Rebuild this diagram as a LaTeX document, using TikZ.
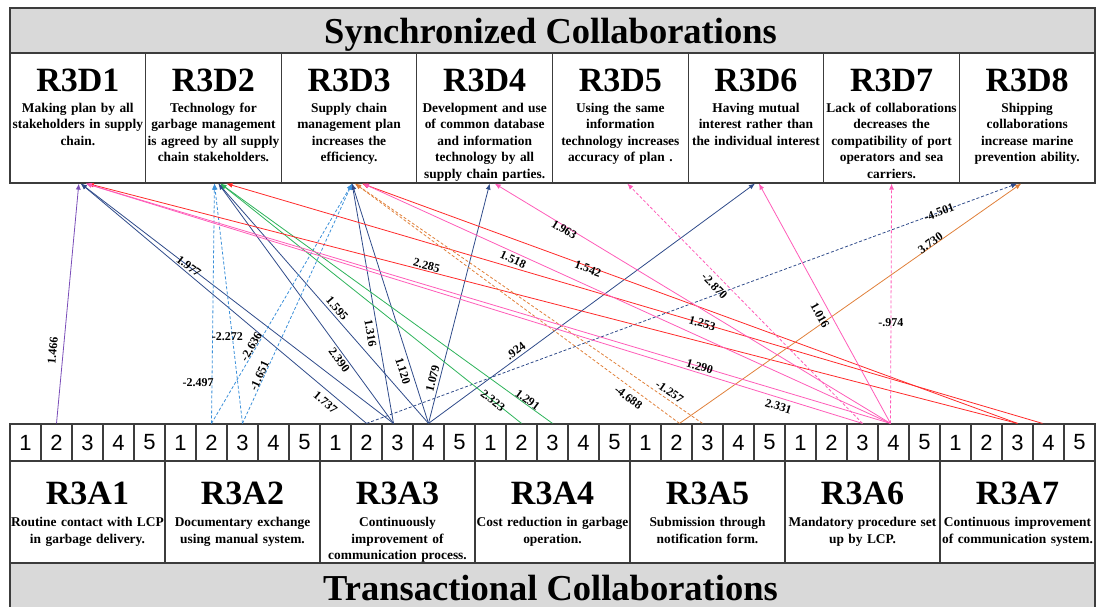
\documentclass[tikz,border=0pt]{standalone}
\usepackage{fontspec}
\setmainfont{Liberation Serif}
\newfontfamily\cellfont{Liberation Sans}
\usetikzlibrary{arrows.meta}

\definecolor{hdrgrey}{HTML}{D9D9D9}
\definecolor{frame}{HTML}{3C3C3C}
\definecolor{cnavy}{HTML}{2F4B8A}
\definecolor{cblue}{HTML}{3A8FD9}
\definecolor{cgreen}{HTML}{2DB35A}
\definecolor{cred}{HTML}{FF2A2A}
\definecolor{cpink}{HTML}{FF5CB8}
\definecolor{corange}{HTML}{E0803A}
\definecolor{cpurple}{HTML}{7A4DB8}

\begin{document}
\begin{tikzpicture}[x=1pt,y=-1pt,
  boxline/.style={draw=frame, line width=1.2pt},
  hdr/.style={boxline, fill=hdrgrey, minimum width=1085pt, inner sep=0pt},
  bigtitle/.style={font=\bfseries\fontsize{36.5}{36.5}\selectfont, inner sep=0pt},
  rtitle/.style={font=\bfseries\fontsize{34}{34}\selectfont, inner sep=0pt},
  dbox/.style={boxline, minimum width=135.625pt, minimum height=130pt, inner sep=0pt},
  abox/.style={boxline, minimum width=155pt, minimum height=102pt, inner sep=0pt},
  cell/.style={boxline, minimum width=31pt, minimum height=37pt, inner sep=0pt,
    font=\cellfont\fontsize{22}{22}\selectfont},
  desc/.style={font=\bfseries\fontsize{13.4}{16.5}\selectfont, align=center,
    text width=135pt, inner sep=0pt, anchor=north},
  conn/.style={line width=0.8pt, -{Latex[length=6pt,width=5pt]}},
  dashedln/.style={dash pattern=on 3pt off 2pt},
  lab/.style={font=\bfseries\fontsize{12}{12}\selectfont, text=black, inner sep=1pt, sloped},
  hlab/.style={font=\bfseries\fontsize{12}{12}\selectfont, text=black, inner sep=1pt}
]
\useasboundingbox (0,0) rectangle (1099,606);
\clip (0,0) rectangle (1099,606);

% top band
\node[hdr, minimum height=45pt] (synch) at (552.5,30.5) {};
\node[bigtitle, anchor=base] (synchT) at (550.5,43) {Synchronized Collaborations};

% synchronized items
\foreach \k/\txt in {
  1/{Making plan by all\\stakeholders in supply\\chain.},
  2/{Technology for\\garbage management\\is agreed by all supply\\chain stakeholders.},
  3/{Supply chain\\management plan\\increases the\\efficiency.},
  4/{Development and use\\of common database\\and information\\technology by all\\supply chain parties.},
  5/{Using the same\\information\\technology increases\\accuracy of plan .},
  6/{Having mutual\\interest rather than\\the individual interest},
  7/{Lack of collaborations\\decreases the\\compatibility of port\\operators and sea\\carriers.},
  8/{Shipping\\collaborations\\increase marine\\prevention ability.}} {
  \node[dbox] (D\k) at ({10+(\k-0.5)*135.625},118) {};
  \node[rtitle, anchor=base] (D\k t) at ({10+(\k-0.5)*135.625},91) {R3D\k};
  \node[desc] (D\k d) at ({10+(\k-0.5)*135.625},102.5) {\txt};
}

% scale cells
\foreach \g in {1,...,7} {
  \foreach \c in {1,...,5} {
    \node[cell] (a\g\c) at ({10+155*(\g-1)+31*(\c-0.5)},442.5) {\c};
  }
}

% transactional items
\foreach \g/\txt in {
  1/{Routine contact with LCP\\in garbage delivery.},
  2/{Documentary exchange\\using manual system.},
  3/{Continuously\\improvement of\\communication process.},
  4/{Cost reduction in garbage\\operation.},
  5/{Submission through\\notification form.},
  6/{Mandatory procedure set\\up by LCP.},
  7/{Continuous improvement\\of communication system.}} {
  \node[abox] (A\g) at ({10+155*(\g-0.5)},512) {};
  \node[rtitle, anchor=base] (A\g t) at ({10+155*(\g-0.5)},504) {R3A\g};
  \node[desc, text width=155pt] (A\g d) at ({10+155*(\g-0.5)},517) {\txt};
}

% bottom band
\node[hdr, minimum height=57pt] (trans) at (552.5,591.5) {};
\node[bigtitle, anchor=base] (transT) at (550.5,600) {Transactional Collaborations};

% purple
\draw[conn, cpurple] (a12.north) -- node[lab, pos=0.30, above=5pt]{1.466} ([xshift=1pt]D1.south);

% navy
\draw[conn, cnavy] (a32.north) -- node[lab, pos=0.12, below=5pt]{1.737} ([xshift=3pt]D1.south);
\draw[conn, cnavy] ([xshift=-4pt]a33.north) -- node[lab, pos=0.655]{1.977} ([xshift=3pt]D1.south);
\draw[conn, cnavy] ([xshift=-4pt]a33.north) -- node[lab, pos=0.28, below=1pt]{2.390} ([xshift=5pt]D2.south);
\draw[conn, cnavy] (a34.north) -- node[lab, pos=0.46, above=1.5pt]{1.595} ([xshift=5pt]D2.south);
\draw[conn, cnavy] ([xshift=-4pt]a33.north) -- node[lab, pos=0.38, below=2pt]{1.316} ([xshift=3pt]D3.south);
\draw[conn, cnavy] (a34.north) -- node[lab, pos=0.23, below=3pt]{1.120} ([xshift=3pt]D3.south);
\draw[conn, cnavy] (a34.north) -- node[lab, pos=0.18, above=1.5pt]{1.079} ([xshift=5pt]D4.south);
\draw[conn, cnavy] (a34.north) -- node[lab, pos=0.28, above=1.5pt]{.924} ([xshift=-1pt]D6.south);
\draw[conn, cnavy, dashedln] (a32.north) -- node[lab, pos=0.88]{-4.501} ([xshift=-10pt]D8.south);

% light blue, dashed
\draw[conn, cblue, dashedln] (a22.north) -- node[hlab, pos=0.17, xshift=-14pt]{-2.497} ([xshift=1pt]D2.south);
\draw[conn, cblue, dashedln] (a23.north) -- node[hlab, pos=0.36, xshift=-5pt]{-2.272} ([xshift=1pt]D2.south);
\draw[conn, cblue, dashedln] (a22.north) -- node[lab, pos=0.31, above=-1pt]{-2.636} ([xshift=3pt]D3.south);
\draw[conn, cblue, dashedln] (a23.north) -- node[lab, pos=0.19, above=-1pt]{-1.651} ([xshift=3pt]D3.south);

% green
\draw[conn, cgreen] (a42.north) -- node[lab, pos=0.095]{2.323} ([xshift=7pt]D2.south);
\draw[conn, cgreen] (a43.north) -- node[lab, pos=0.083, above=-1pt]{1.291} ([xshift=7pt]D2.south);

% red
\draw[conn, cred] (a73.north) -- node[lab, pos=0.637, above=0pt]{2.285} ([xshift=10pt]D1.south);
\draw[conn, cred] ([xshift=-6pt]a74.north) -- node[lab, pos=0.417]{1.253} ([xshift=13pt]D2.south);
\draw[conn, cred] (a73.north) -- node[lab, pos=0.654, below=-3pt]{1.542} ([xshift=13pt]D3.south);

% orange
\draw[conn, corange, dashedln] ([xshift=3pt]a52.north) -- node[lab, pos=0.14, below=4pt]{-4.688} ([xshift=6pt]D3.south);
\draw[conn, corange, dashedln] ([xshift=-5pt]a53.north) -- node[lab, pos=0.107, above=2pt]{-1.257} ([xshift=6pt]D3.south);
\draw[conn, corange] ([xshift=3pt]a52.north) -- node[lab, pos=0.74, above=-2pt]{3.730} ([xshift=-6pt]D8.south);

% pink
\draw[conn, cpink] (a63.north) -- node[lab, pos=0.105, below=3pt]{2.331} ([xshift=8pt]D1.south);
\draw[conn, cpink] ([xshift=-3pt]a64.north) -- node[lab, pos=0.237]{1.290} ([xshift=8pt]D1.south);
\draw[conn, cpink] ([xshift=-3pt]a64.north) -- node[lab, pos=0.71, below=1.5pt]{1.518} ([xshift=14pt]D3.south);
\draw[conn, cpink] ([xshift=-3pt]a64.north) -- node[lab, pos=0.82, below=-2pt]{1.963} ([xshift=10pt]D4.south);
\draw[conn, cpink, dashedln] (a63.north) -- node[lab, pos=0.60, below=4pt]{-2.870} ([xshift=7pt]D5.south);
\draw[conn, cpink] ([xshift=-3pt]a64.north) -- node[lab, pos=0.47, below=4.5pt]{1.016} ([xshift=3pt]D6.south);
\draw[conn, cpink, dashedln] ([xshift=-3pt]a64.north) -- node[hlab, pos=0.42]{-.974} (D7.south);
\end{tikzpicture}
\end{document}
